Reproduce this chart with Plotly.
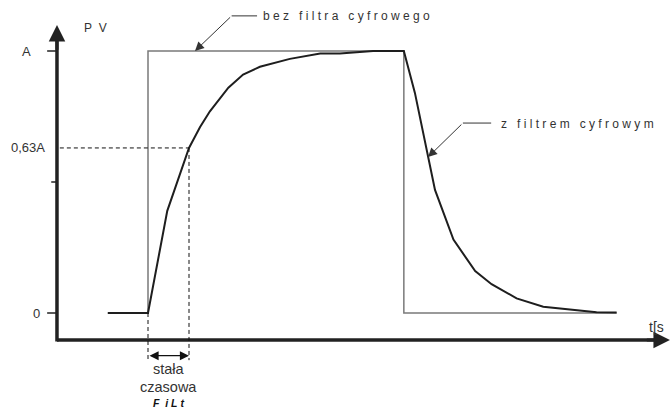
import plotly.graph_objects as go

NB = "\u00a0"

# Time in units of the filter time constant, PV as a fraction of A
step_t = [-0.98, 0.0, 0.0, 6.24, 6.24, 11.43]
step_pv = [0, 0, 1, 1, 0, 0]

filt_t = [-0.98, 0.0, 0.47, 0.78, 1.0, 1.27, 1.51, 1.96, 2.32, 2.73, 3.22, 3.46,
          4.20, 4.68, 5.49, 6.24, 6.51, 6.80, 7.0, 7.45, 7.98, 8.38, 8.99, 9.64,
          10.46, 10.94, 11.43]
filt_pv = [0, 0, 0.39, 0.53, 0.63, 0.71, 0.77, 0.86, 0.91, 0.94, 0.96, 0.97,
           0.99, 0.99, 1.0, 1.0, 0.84, 0.62, 0.47, 0.28, 0.16, 0.11, 0.056, 0.024,
           0.009, 0.003, 0.002]

y_tick_vals = [0, 1]
y_tick_text = ["0", "A"]
y_tick_label_x = [-2.59, -2.80]
y_minor_tick = 0.5
level_63 = 0.63
level_63_text = "0,63A"
tau = 1.0

x_origin, y_origin = -2.22, -0.103
x_tip, y_tip = 12.73, 1.099
x_range = [-3.6098, 12.7805]
y_range = [-0.36641, 1.19466]

AXIS = "#222222"
TXT = "#333333"
FONT = "Liberation Sans, Arial, sans-serif"


def spaced(s):
    words = s.split(" ")
    return (NB * 3).join(NB.join(w) for w in words)


fig = go.Figure()

fig.add_trace(go.Scatter(x=step_t, y=step_pv, mode="lines",
                         line=dict(color="#7a7a7a", width=1.5), hoverinfo="skip"))
fig.add_trace(go.Scatter(x=filt_t, y=filt_pv, mode="lines",
                         line=dict(color="#1e1e1e", width=2), hoverinfo="skip"))

shapes = []
# axes
shapes.append(dict(type="line", x0=x_origin, y0=y_origin, x1=x_tip - 0.15, y1=y_origin,
                   line=dict(color=AXIS, width=3.5)))
shapes.append(dict(type="line", x0=x_origin, y0=y_origin - 0.006, x1=x_origin, y1=y_tip - 0.03,
                   line=dict(color=AXIS, width=3.5)))
# y ticks
for v in y_tick_vals:
    shapes.append(dict(type="line", x0=x_origin - 0.24, y0=v, x1=x_origin, y1=v,
                       line=dict(color=AXIS, width=1.5)))
shapes.append(dict(type="line", x0=x_origin - 0.14, y0=y_minor_tick, x1=x_origin, y1=y_minor_tick,
                   line=dict(color=AXIS, width=1.5)))
# time-constant guides
dash = dict(color="#111111", width=1, dash="4px,3px")
shapes.append(dict(type="line", x0=x_origin + 0.07, y0=level_63, x1=tau, y1=level_63, line=dash))
shapes.append(dict(type="line", x0=tau, y0=level_63, x1=tau, y1=-0.18, line=dash))
shapes.append(dict(type="line", x0=0, y0=0, x1=0, y1=-0.18, line=dash))
# leader lines
shapes.append(dict(type="line", x0=2.04, y0=1.134, x1=2.66, y1=1.134,
                   line=dict(color=TXT, width=1)))
shapes.append(dict(type="line", x0=7.68, y0=0.725, x1=8.37, y1=0.725,
                   line=dict(color=TXT, width=1)))

ann = []
# axis arrowheads
ann.append(dict(x=x_tip, y=y_origin, ax=x_tip - 0.6, ay=y_origin, xref="x", yref="y",
                axref="x", ayref="y", text="", showarrow=True, arrowhead=2,
                arrowsize=1.1, arrowwidth=3, arrowcolor=AXIS, standoff=0))
ann.append(dict(x=x_origin, y=y_tip, ax=x_origin, ay=y_tip - 0.1, xref="x", yref="y",
                axref="x", ayref="y", text="", showarrow=True, arrowhead=2,
                arrowsize=1.1, arrowwidth=3, arrowcolor=AXIS, standoff=0))
# leader arrows
ann.append(dict(x=1.146, y=1.0, ax=2.04, ay=1.134, xref="x", yref="y", axref="x", ayref="y",
                text="", showarrow=True, arrowhead=2, arrowsize=1.8, arrowwidth=1,
                arrowcolor=TXT, standoff=0))
ann.append(dict(x=6.83, y=0.595, ax=7.68, ay=0.725, xref="x", yref="y", axref="x", ayref="y",
                text="", showarrow=True, arrowhead=2, arrowsize=1.8, arrowwidth=1,
                arrowcolor=TXT, standoff=0))
# time constant span
ann.append(dict(x=tau, y=-0.163, ax=0, ay=-0.163, xref="x", yref="y", axref="x", ayref="y",
                text="", showarrow=True, arrowhead=2, startarrowhead=2, arrowside="end+start",
                arrowsize=1.4, startarrowsize=1.4, arrowwidth=1.3, arrowcolor="#111111",
                standoff=0, startstandoff=0))


def label(x, y, text, xanchor="left", size=12, **kw):
    ann.append(dict(x=x, y=y, xref="x", yref="y", text=text, showarrow=False,
                    xanchor=xanchor, yanchor="middle",
                    font=dict(family=FONT, size=size, color=TXT), **kw))


for v, t, lx in zip(y_tick_vals, y_tick_text, y_tick_label_x):
    label(lx, v, t, xanchor="right", size=13)
label(x_origin - 0.24, level_63, level_63_text, xanchor="right", size=13)
label(-1.61, 1.088, "P" + NB * 2 + "V", size=12)
label(12.17, -0.053, "t[s", size=14)
label(2.76, 1.134, spaced("bez filtra cyfrowego"), size=12)
label(8.56, 0.721, spaced("z filtrem cyfrowym"), size=12)
label(0.51, -0.214, "stała", xanchor="center", size=14.5)
label(0.51, -0.282, "czasowa", xanchor="center", size=14.5)
ann.append(dict(x=0.51, y=-0.344, xref="x", yref="y",
                text="<b><i>F" + NB * 2 + "i" + NB + "L" + NB + "t</i></b>",
                showarrow=False, xanchor="center", yanchor="middle",
                font=dict(family=FONT, size=10.5, color="#111111")))

fig.update_layout(
    width=672, height=409, margin=dict(l=0, r=0, t=0, b=0),
    paper_bgcolor="white", plot_bgcolor="white", showlegend=False,
    xaxis=dict(range=x_range, visible=False, fixedrange=True),
    yaxis=dict(range=y_range, visible=False, fixedrange=True),
    shapes=shapes, annotations=ann,
)

fig.write_html("out.html")
